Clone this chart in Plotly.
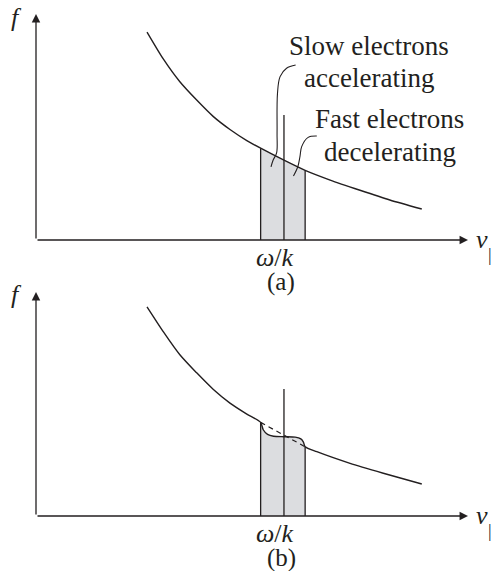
import plotly.graph_objects as go

W, H = 493, 571

# --- data (v and f in 0..100 units) ---
# panel (a): undisturbed distribution
v_curve_a = [25.7, 29.5, 33.3, 37.2, 41.0, 44.9, 48.8, 52.0, 57.4, 62.3, 68.1, 75.0, 81.9, 89.3]
f_curve_a = [92.0, 80.0, 70.0, 61.9, 54.7, 48.9, 44.0, 40.6, 35.3, 30.8, 26.5, 22.0, 17.7, 13.7]

# panel (b): distribution flattened around the phase velocity
v_curve_b = [25.7, 29.5, 33.3, 37.2, 41.0, 44.9, 48.8, 52.0, 52.6, 53.6, 55.0, 57.4,
             60.0, 61.3, 61.9, 62.3, 65.0, 72.7, 80.4, 89.3]
f_curve_b = [93.4, 82.2, 72.0, 63.9, 56.6, 50.4, 45.5, 41.8, 38.5, 36.4, 35.6, 35.4,
             35.2, 34.4, 33.0, 30.9, 28.7, 23.5, 19.1, 14.3]
v_dash_b = [52.0, 57.4, 62.3]
f_dash_b = [41.8, 35.9, 30.9]

# band of resonant electrons and the phase velocity omega/k
v_lo, v_mid, v_hi = 52.0, 57.4, 62.3
mid_top_a = 55.3
mid_top_b = 56.7

# leader lines for the labels in (a)
v_slow = [60.1, 58.0, 56.5, 55.9, 55.8, 55.7, 54.9, 54.4]
f_slow = [77.4, 76.0, 72.3, 64.9, 47.3, 38.5, 35.4, 32.4]
v_fast = [65.0, 63.0, 61.5, 61.1, 60.6, 59.6]
f_fast = [46.0, 45.4, 41.3, 36.9, 32.4, 28.3]

INK = '#231f20'
SHADE = '#dcdde0'
FONT = 'Liberation Serif'

# pixel frame of the two panels: v=0..100 / f=0..100
PX_X0, PX_X1 = 36, 468
PANELS = [(240, 14), (516, 292)]
PAD, PAD_TOP = 5, 2


def x_domain():
	u = (PX_X1 - PX_X0) / 100
	return [(PX_X0 - PAD * u) / W, (PX_X1 + PAD * u) / W]


def y_domain(y0, y1):
	u = (y0 - y1) / 100
	return [1 - (y0 + PAD * u) / H, 1 - (y1 - PAD_TOP * u) / H]


def paper(x, y):
	return x / W, 1 - y / H


fig = go.Figure()
annotations = []


def label(x, y, text, size=26):
	px, py = paper(x, y)
	annotations.append(dict(x=px, y=py, xref='paper', yref='paper', text=text,
		xanchor='center', yanchor='middle', showarrow=False,
		font=dict(family=FONT, size=size, color=INK)))


def add_panel(n, v_curve, f_curve, mid_top, tag, y0):
	xa = 'x' if n == 1 else 'x%d' % n
	ya = 'y' if n == 1 else 'y%d' % n
	seg = [(v, f) for v, f in zip(v_curve, f_curve) if v_lo <= v <= v_hi]
	seg_v = [p[0] for p in seg]
	seg_f = [p[1] for p in seg]

	# shaded band
	fig.add_trace(go.Scatter(
		x=[v_lo] + seg_v + [v_hi], y=[0] + seg_f + [0],
		xaxis=xa, yaxis=ya, mode='lines', fill='toself', fillcolor=SHADE,
		line=dict(width=0), hoverinfo='skip'))
	# band edges
	fig.add_trace(go.Scatter(
		x=[v_lo, v_lo, None, v_hi, v_hi], y=[0, seg_f[0], None, 0, seg_f[-1]],
		xaxis=xa, yaxis=ya, mode='lines', line=dict(color=INK, width=1.3)))
	# omega/k line
	fig.add_trace(go.Scatter(
		x=[v_mid, v_mid], y=[0, mid_top],
		xaxis=xa, yaxis=ya, mode='lines', line=dict(color=INK, width=1.3)))
	# distribution
	fig.add_trace(go.Scatter(
		x=v_curve, y=f_curve, xaxis=xa, yaxis=ya, mode='lines',
		line=dict(color=INK, width=1.4, shape='spline', smoothing=0.7)))

	# axes with arrows
	for (x, y) in [(100, 0), (0, 100)]:
		annotations.append(dict(
			x=x, y=y, ax=0, ay=0, xref=xa, yref=ya, axref=xa, ayref=ya,
			text='', showarrow=True, arrowhead=2, arrowsize=1.3,
			arrowwidth=1.3, arrowcolor=INK, standoff=0, startstandoff=0))

	label(16, y0 - 222, '<i>f</i>')
	label(481.5, y0 - 1, '<i>v</i>')
	label(490, y0 + 15, '|', size=18)
	label(275, y0 + 17, '<i>ω</i>/<i>k</i>')
	label(281, y0 + 42, tag, size=25)


add_panel(1, v_curve_a, f_curve_a, mid_top_a, '(a)', PANELS[0][0])
add_panel(2, v_curve_b, f_curve_b, mid_top_b, '(b)', PANELS[1][0])

fig.add_trace(go.Scatter(
	x=v_dash_b, y=f_dash_b, xaxis='x2', yaxis='y2', mode='lines',
	line=dict(color=INK, width=1.2, dash='5px,4px')))

for lv, lf in [(v_slow, f_slow), (v_fast, f_fast)]:
	fig.add_trace(go.Scatter(
		x=lv, y=lf, xaxis='x', yaxis='y', mode='lines',
		line=dict(color=INK, width=1.1, shape='spline', smoothing=1)))

label(369, 46, 'Slow electrons', size=27)
label(369, 78, 'accelerating', size=27)
label(389.5, 119, 'Fast electrons', size=27)
label(390, 151.5, 'decelerating', size=27)

hidden = dict(visible=False, fixedrange=True)
fig.update_layout(
	width=W, height=H,
	margin=dict(l=0, r=0, t=0, b=0),
	paper_bgcolor='white', plot_bgcolor='white',
	showlegend=False, hovermode=False,
	xaxis=dict(hidden, domain=x_domain(), range=[-PAD, 100 + PAD], anchor='y'),
	yaxis=dict(hidden, domain=y_domain(*PANELS[0]), range=[-PAD, 100 + PAD_TOP], anchor='x'),
	xaxis2=dict(hidden, domain=x_domain(), range=[-PAD, 100 + PAD], anchor='y2'),
	yaxis2=dict(hidden, domain=y_domain(*PANELS[1]), range=[-PAD, 100 + PAD_TOP], anchor='x2'),
	annotations=annotations,
)

# drop the page's default body margin so the figure sits at the window corner
fig.write_html("out.html", config={'displayModeBar': False},
	post_script="document.body.style.margin='0';")
